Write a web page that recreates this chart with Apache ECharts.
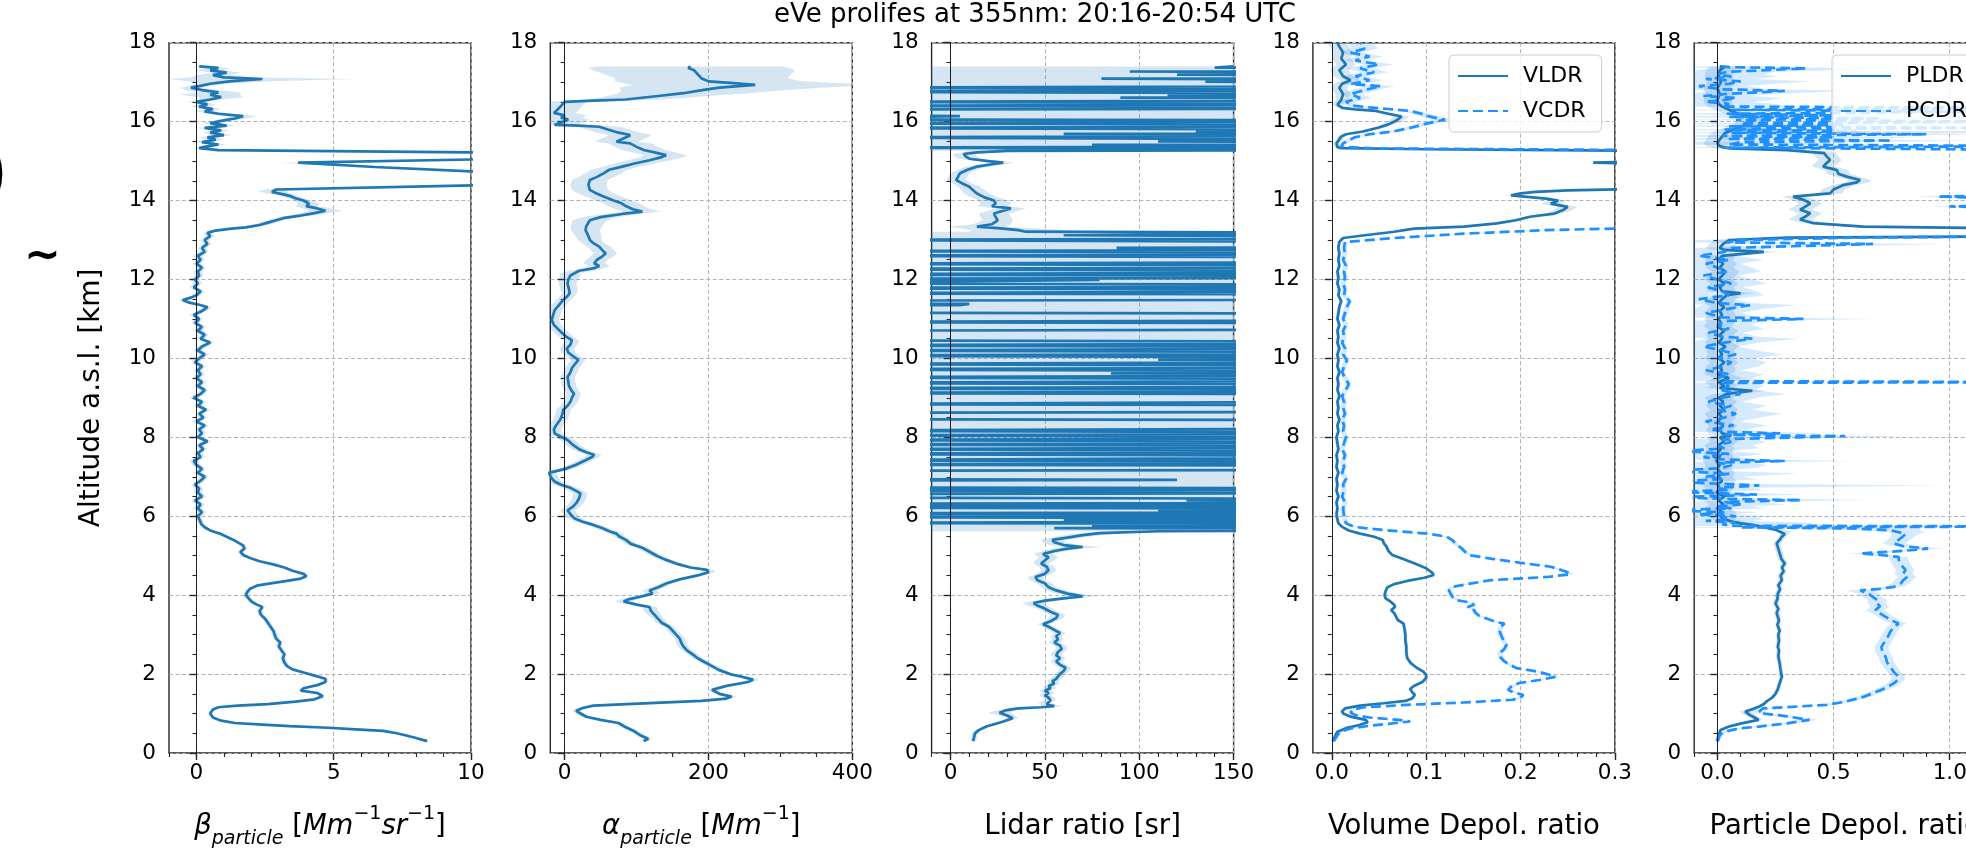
<!DOCTYPE html>
<html>
<head>
<meta charset="utf-8">
<title>eVe profiles 355 nm</title>
<script src="https://cdn.jsdelivr.net/npm/echarts@6/dist/echarts.min.js"></script>
<style>
  html, body { margin: 0; padding: 0; background: #fff; }
  #chart { width: 1966px; height: 857px; }
</style>
</head>
<body>
<div id="chart"></div>
<script>
// Each profile row: [altitude a.s.l. (km), value, uncertainty]

// Particle backscatter coefficient (Mm-1 sr-1)
const betaRows = [
  [0.30,8.4,0.1],[0.40,7.9,0.1],[0.50,7.3,0.1],[0.56,6.8,0.1],[0.60,5.8,0.1],[0.64,4.8,0.1],[0.68,3.4,0.1],[0.72,2.4,0.1],
  [0.76,1.4,0.08],[0.82,0.9,0.08],[0.90,0.6,0.08],[1.00,0.5,0.08],[1.10,0.6,0.08],[1.16,0.8,0.08],[1.20,1.5,0.1],[1.24,2.6,0.1],
  [1.30,3.6,0.1],[1.36,4.3,0.1],[1.44,4.6,0.1],[1.52,4.4,0.1],[1.58,3.8,0.1],[1.64,3.9,0.1],[1.72,4.4,0.1],[1.80,4.7,0.1],
  [1.88,4.7,0.1],[1.96,4.3,0.1],[2.04,3.9,0.1],[2.12,3.5,0.1],[2.20,3.3,0.1],[2.30,3.2,0.1],[2.40,3.15,0.1],[2.50,3.2,0.1],
  [2.60,3.1,0.1],[2.70,3.0,0.1],[2.80,3.05,0.1],[2.90,2.9,0.1],[3.00,2.85,0.1],[3.10,2.8,0.1],[3.20,2.7,0.1],[3.30,2.6,0.1],
  [3.40,2.5,0.1],[3.50,2.35,0.1],[3.60,2.3,0.1],[3.70,2.4,0.1],[3.76,2.2,0.1],[3.84,2.0,0.1],[3.92,1.9,0.1],[4.00,1.8,0.1],
  [4.08,1.85,0.1],[4.16,1.95,0.1],[4.24,2.2,0.1],[4.30,2.7,0.1],[4.36,3.3,0.1],[4.42,3.8,0.1],[4.48,4.0,0.1],[4.54,3.9,0.1],
  [4.62,3.5,0.1],[4.70,3.2,0.1],[4.78,2.8,0.1],[4.86,2.3,0.1],[4.94,1.95,0.1],[5.02,1.7,0.1],[5.10,1.6,0.1],[5.18,1.75,0.1],
  [5.26,1.7,0.1],[5.32,1.55,0.1],[5.40,1.35,0.1],[5.48,1.1,0.1],[5.56,0.85,0.1],[5.64,0.5,0.1],[5.72,0.3,0.1],[5.80,0.18,0.1],
  [5.90,0.12,0.1],[6.00,0.05,0.12],
  [6.1,0.2,0.15],[6.2,0.05,0.15],[6.3,0.15,0.15],[6.4,-0.05,0.15],[6.5,0.2,0.15],[6.6,0.05,0.15],[6.7,0.1,0.15],[6.8,-0.05,0.15],
  [6.9,0.15,0.15],[7.0,0.3,0.15],[7.1,0.05,0.15],[7.2,0.2,0.15],[7.3,0.0,0.15],[7.4,-0.1,0.15],[7.5,0.15,0.15],[7.6,0.05,0.15],
  [7.7,0.25,0.15],[7.8,0.1,0.15],[7.9,0.4,0.15],[8.0,0.05,0.15],[8.1,0.2,0.15],[8.2,0.1,0.15],[8.3,0.3,0.15],[8.4,0.0,0.15],
  [8.5,0.25,0.15],[8.6,0.1,0.15],[8.7,0.35,0.15],[8.8,0.05,0.15],[8.9,0.2,0.15],[9.0,-0.1,0.15],[9.1,0.15,0.15],[9.2,0.3,0.15],
  [9.3,0.05,0.15],[9.4,0.2,0.15],[9.5,0.0,0.15],[9.6,0.15,0.15],[9.7,0.05,0.15],[9.8,0.2,0.15],[9.9,-0.05,0.15],[10.0,0.1,0.15],
  [10.1,0.3,0.15],[10.2,0.05,0.15],[10.3,0.2,0.15],[10.4,0.5,0.15],[10.5,0.15,0.15],[10.6,0.3,0.15],[10.7,0.05,0.15],[10.8,0.2,0.15],
  [10.9,-0.05,0.15],[11.0,0.1,0.15],[11.1,-0.1,0.15],[11.2,0.2,0.15],[11.3,0.4,0.15],[11.36,0.1,0.15],[11.42,-0.3,0.15],[11.48,-0.5,0.15],
  [11.54,-0.2,0.15],[11.6,0.0,0.15],[11.7,0.15,0.15],[11.8,-0.1,0.15],[11.9,0.05,0.15],[12.0,-0.05,0.15],[12.1,0.1,0.15],[12.2,0.05,0.15],
  [12.3,0.2,0.15],[12.4,0.0,0.15],[12.5,0.15,0.15],[12.6,0.05,0.15],[12.7,0.3,0.15],[12.8,0.2,0.15],[12.9,0.4,0.15],[13.0,0.3,0.15],
  [13.1,0.5,0.15],[13.18,0.4,0.15],[13.24,0.7,0.15],
  [13.28,1.2,0.2],[13.32,1.8,0.25],[13.38,2.3,0.3],[13.44,2.6,0.3],[13.5,2.9,0.3],[13.56,3.2,0.3],[13.62,3.8,0.4],[13.68,4.3,0.5],
  [13.74,4.7,0.6],[13.8,4.4,0.5],[13.86,4.0,0.4],[13.92,4.1,0.4],[14.0,3.9,0.3],[14.06,3.6,0.3],[14.12,3.4,0.3],[14.18,3.0,0.4],
  [14.22,2.75,0.5],[14.28,2.9,0.4],[14.39,10.5,0.5],[14.55,20,1],[14.74,10,0.5],[14.85,6.5,0.5],[14.96,3.7,0.7],[15.04,10,0.5],
  [15.13,20,1],[15.22,10,0.5],[15.28,0.8,0.2],[15.33,0.1,0.2],
  [15.36,0.3,0.3],[15.42,0.8,0.3],[15.48,0.2,0.3],[15.54,0.7,0.3],[15.6,0.4,0.3],[15.66,1.0,0.3],[15.72,0.5,0.3],[15.78,0.9,0.3],
  [15.84,0.3,0.3],[15.9,1.1,0.3],[15.96,0.5,0.3],[16.02,0.9,0.35],[16.08,1.4,0.4],[16.14,1.7,0.5],[16.2,0.8,0.4],[16.26,0.3,0.3],
  [16.32,0.6,0.3],[16.38,0.1,0.3],[16.44,0.4,0.3],[16.5,0.0,0.3],[16.56,0.5,0.4],[16.62,0.9,0.8],[16.68,0.5,1.1],[16.74,0.8,0.8],
  [16.8,0.2,0.6],[16.86,-0.2,0.4],[16.9,0.1,0.4],[16.96,0.5,0.5],[17.02,1.2,1.5],[17.08,2.4,3.4],[17.12,1.0,1.2],[17.18,0.6,0.6],
  [17.24,1.1,0.5],[17.3,0.5,0.5],[17.36,0.8,0.4],[17.4,0.1,0.3]
];

// Particle extinction coefficient (Mm-1)
const alphaRows = [
  [0.30,110,6],[0.36,116,6],[0.45,105,6],[0.55,97,6],[0.65,85,6],[0.76,75,6],[0.84,50,6],[0.92,30,6],[1.00,22,6],[1.07,16,6],
  [1.14,25,6],[1.20,40,6],[1.26,110,7],[1.32,190,7],[1.38,225,7],[1.43,232,7],[1.50,215,7],[1.60,205,7],[1.70,225,7],[1.80,255,8],
  [1.86,262,8],[1.94,245,8],[2.00,230,7],[2.10,215,7],[2.20,205,7],[2.30,195,7],[2.40,185,7],[2.50,178,7],[2.60,170,7],[2.70,165,7],
  [2.80,162,7],[2.90,160,7],[3.00,155,7],[3.10,150,7],[3.20,145,7],[3.30,135,8],[3.40,130,8],[3.50,125,9],[3.60,120,10],[3.70,118,10],
  [3.76,100,11],[3.84,82,12],[3.90,90,11],[3.96,105,10],[4.04,122,10],[4.12,118,10],[4.20,130,9],[4.30,142,8],[4.40,160,8],[4.50,185,8],
  [4.58,200,9],[4.64,198,9],[4.70,175,8],[4.80,155,8],[4.90,140,8],[5.00,128,8],[5.10,118,8],[5.20,108,8],[5.30,92,8],[5.40,85,8],
  [5.50,75,8],[5.56,72,9],[5.62,62,9],[5.70,52,9],[5.78,40,9],[5.86,25,9],[5.94,14,9],[6.05,8,10],[6.15,4,10],[6.25,12,10],
  [6.33,16,10],[6.45,20,10],[6.58,22,10],[6.66,14,10],[6.72,8,10],[6.80,-5,10],[6.88,-14,10],[6.96,-18,10],[7.10,-22,10],[7.20,1,10],
  [7.30,15,10],[7.42,29,10],[7.50,38,10],[7.56,41,10],[7.62,30,10],[7.70,20,10],[7.80,12,10],[7.93,4,10],[8.02,-6,10],[8.10,-14,10],
  [8.20,-15,10],[8.30,-12,10],[8.45,-6,10],[8.60,-3,10],[8.70,-2,10],[8.80,4,10],[8.90,8,10],[9.00,10,10],[9.10,13,10],[9.20,9,10],
  [9.30,6,10],[9.40,5,10],[9.53,4,10],[9.65,8,10],[9.75,10,10],[9.85,14,10],[9.96,19,10],[10.05,12,10],[10.15,5,10],[10.25,3,10],
  [10.35,8,10],[10.46,10,10],[10.55,2,10],[10.65,-4,10],[10.72,-8,10],[10.85,-15,10],[10.97,-18,10],[11.10,-16,10],[11.22,-14,10],[11.35,-8,10],
  [11.48,-2,10],[11.58,4,10],[11.65,7,10],[11.75,6,12],[11.90,4,12],[12.00,5,14],[12.10,8,14],[12.15,7,14],[12.22,20,15],[12.28,40,15],
  [12.34,48,15],[12.41,41,15],[12.50,45,15],[12.58,52,16],[12.66,57,16],[12.75,52,16],[12.83,48,16],[12.92,40,16],[13.00,35,16],[13.10,33,18],
  [13.25,29,20],[13.35,30,22],[13.50,35,24],[13.58,50,25],[13.66,80,25],[13.72,108,25],[13.78,95,25],[13.86,85,25],[13.93,79,25],[14.00,68,25],
  [14.10,54,25],[14.20,42,25],[14.27,35,25],[14.40,33,25],[14.52,35,25],[14.60,45,25],[14.69,54,25],[14.78,62,25],[14.86,80,25],[14.94,97,28],
  [15.02,118,30],[15.10,135,30],[15.15,141,30],[15.22,125,30],[15.28,110,30],[15.36,100,30],[15.45,91,30],[15.49,72,30],[15.56,80,30],[15.62,88,30],
  [15.66,91,30],[15.72,75,30],[15.80,60,30],[15.87,48,30],[15.90,20,30],[15.92,-14,30],[15.98,-5,30],[16.05,5,30],[16.10,-5,30],[16.16,0,30],
  [16.22,-15,30],[16.30,-10,30],[16.40,-5,30],[16.50,0,30],[16.53,40,40],[16.56,85,50],[16.65,130,70],[16.72,165,90],[16.79,189,110],[16.86,215,140],
  [16.93,265,170],[16.98,230,150],[17.02,200,130],[17.10,190,120],[17.20,185,130],[17.30,180,140],[17.36,172,140],[17.40,175,130]
];

// Lidar ratio (sr): stable layers below 5.7 km and at 13.2-15.3 km
const lrLowRows = [
  [0.30,12,1.5],[0.40,12.5,1.5],[0.50,13,1.5],[0.58,15,1.5],[0.67,19,2],[0.74,24,2],[0.80,28,2],[0.88,33,3],[0.95,30,4],[1.02,26,6],
  [1.08,29,5],[1.13,36,4],[1.16,48,4],[1.19,55,5],[1.23,51,4],[1.28,50,3],[1.34,53,3],[1.40,52,3],[1.46,50,3],[1.52,52,3],
  [1.58,50,3],[1.64,53,3],[1.70,52,3],[1.76,55,3],[1.82,54,3],[1.88,56,3],[1.94,57,3],[2.00,58,3],[2.08,60,3],[2.16,61,3],
  [2.24,58,3],[2.32,56,3],[2.40,58,3],[2.48,56,3],[2.56,57,3],[2.64,59,3],[2.72,58,3],[2.80,55,3],[2.88,57,3],[2.96,56,3],
  [3.04,58,3],[3.12,55,3],[3.20,52,3],[3.26,49,3],[3.34,53,3],[3.42,56,4],[3.50,57,4],[3.58,53,4],[3.66,50,4],[3.74,46,5],
  [3.80,44,6],[3.86,50,5],[3.92,60,6],[3.97,70,8],[4.04,62,6],[4.12,56,5],[4.20,52,4],[4.30,50,4],[4.38,46,4],[4.46,45,4],
  [4.54,50,4],[4.63,52,4],[4.72,51,4],[4.80,48,4],[4.88,50,5],[4.96,52,5],[5.04,49,5],[5.12,55,6],[5.18,62,8],[5.22,70,10],
  [5.27,60,8],[5.34,55,6],[5.40,54,6],[5.46,62,8],[5.52,70,10],[5.57,79,12],[5.62,110,25]
];
const lrMidRows = [
  [13.21,40,30],[13.25,36,25],[13.30,25,20],[13.34,14,15],[13.40,22,10],[13.50,25,8],[13.58,24,8],[13.67,23,8],[13.74,28,8],[13.80,32,8],
  [13.86,22,8],[13.92,24,8],[14.00,23,8],[14.08,18,7],[14.18,14,7],[14.26,12,6],[14.35,10,6],[14.44,6,5],[14.52,3,5],[14.60,4,5],
  [14.69,5,5],[14.78,9,5],[14.86,14,6],[14.92,22,6],[14.96,28,6],[15.00,20,6],[15.06,10,6],[15.12,8,6],[15.18,7,6],[15.22,14,8],[15.26,30,20]
];
// Lidar ratio inside the cirrus layers, where beta -> 0 and the ratio swings off scale: [altitude, value]
const lrCloudLow = [
  [5.66,400],[5.70,55],[5.73,400],[5.76,75],[5.79,400],[5.83,-100],[5.88,400],[5.91,60],[5.94,400],[5.98,-100],[6.03,400],[6.07,-100],
  [6.12,400],[6.15,110],[6.18,400],[6.22,-100],[6.27,400],[6.31,-100],[6.36,400],[6.40,125],[6.43,400],[6.47,-100],[6.56,-100],[6.60,400],
  [6.65,-100],[6.70,400],[6.73,-100],[6.90,-100],[6.92,120],[6.94,-100],[7.15,-100],[7.19,400],[7.27,400],[7.31,-100],[7.37,400],[7.42,-100],
  [7.46,110],[7.50,400],[7.58,-100],[7.64,400],[7.70,-100],[7.76,400],[7.82,-100],[7.88,400],[7.93,-100],[7.99,400],[8.05,-100],[8.10,400],
  [8.17,-100],[8.24,400],[8.42,400],[8.46,-100],[8.62,-100],[8.66,400],[8.80,400],[8.84,-100],[8.93,400],[9.08,400],[9.12,-100],[9.18,400],
  [9.24,-100],[9.31,400],[9.38,-100],[9.45,400],[9.52,-100],[9.58,400],[9.62,85],[9.66,400],[9.72,-100],[9.79,400],[9.86,-100],[9.92,400],
  [9.97,110],[10.01,400],[10.07,-100],[10.14,400],[10.20,-100],[10.27,400],[10.33,-100],[10.40,400],[10.46,-100],[10.70,-100],[10.74,400],[10.88,400],
  [10.92,-100],[10.98,400],[11.12,400],[11.16,-100],[11.33,-100],[11.35,5],[11.38,10],[11.40,-100],[11.46,-100],[11.50,400],[11.60,400],[11.65,-100],
  [11.72,400],[11.78,-100],[11.85,400],[11.90,-100],[11.99,79],[12.01,-100],[12.06,400],[12.13,-100],[12.20,400],[12.26,-100],[12.33,400],[12.40,-100],
  [12.46,400],[12.55,400],[12.60,-100],[12.66,400],[12.72,-100],[12.76,400],[12.80,88],[12.83,400],[12.93,400],[13.00,-100],[13.06,400],[13.10,400],
  [13.12,60],[13.14,120],[13.16,400],[13.18,400]
];
const lrCloudHigh = [
  [15.30,400],[15.34,-100],[15.38,400],[15.41,75],[15.44,400],[15.49,400],[15.50,110],[15.52,400],[15.57,400],[15.60,-100],[15.66,400],[15.69,60],
  [15.72,400],[15.76,130],[15.78,400],[15.84,-100],[15.90,400],[15.96,-100],[16.02,400],[16.06,-100],[16.14,5],[16.18,-100],[16.30,-100],[16.35,400],
  [16.40,-100],[16.45,400],[16.50,-100],[16.55,400],[16.61,90],[16.64,400],[16.67,115],[16.70,400],[16.76,-100],[16.81,400],[16.86,-100],[16.92,400],
  [17.01,135],[17.04,400],[17.09,80],[17.12,400],[17.19,120],[17.22,400],[17.27,95],[17.30,400],[17.37,140],[17.40,150]
];
// uncertainty of the ratio inside the cirrus layers is unbounded on this scale
const lrCloudSpread = 2000;

// Volume linear / circular depolarization ratio
const vldrRows = [
  [0.30,0.001,0.002],[0.45,0.004,0.002],[0.54,0.006,0.002],[0.63,0.015,0.002],[0.71,0.029,0.002],[0.78,0.038,0.002],[0.84,0.036,0.002],
  [0.92,0.02,0.002],[1.00,0.012,0.002],[1.06,0.011,0.002],[1.13,0.014,0.002],[1.20,0.03,0.002],[1.26,0.055,0.002],[1.32,0.078,0.002],
  [1.38,0.085,0.002],[1.47,0.088,0.002],[1.55,0.085,0.002],[1.62,0.083,0.002],[1.70,0.087,0.002],[1.80,0.096,0.002],[1.90,0.1,0.002],
  [1.98,0.1,0.002],[2.06,0.097,0.002],[2.16,0.09,0.002],[2.27,0.084,0.002],[2.40,0.08,0.002],[2.55,0.079,0.002],[2.70,0.079,0.002],
  [2.85,0.078,0.002],[3.00,0.078,0.002],[3.15,0.077,0.002],[3.28,0.076,0.002],[3.37,0.07,0.002],[3.46,0.068,0.002],[3.55,0.066,0.002],
  [3.62,0.063,0.002],[3.70,0.067,0.002],[3.76,0.066,0.002],[3.84,0.062,0.002],[3.92,0.057,0.002],[4.00,0.056,0.002],[4.10,0.057,0.002],
  [4.20,0.059,0.002],[4.28,0.066,0.002],[4.36,0.08,0.002],[4.44,0.098,0.002],[4.51,0.108,0.002],[4.58,0.106,0.002],[4.68,0.1,0.002],
  [4.80,0.088,0.002],[4.92,0.075,0.002],[5.02,0.064,0.002],[5.12,0.06,0.002],[5.23,0.058,0.002],[5.32,0.055,0.002],[5.40,0.054,0.002],
  [5.48,0.045,0.002],[5.56,0.03,0.002],[5.64,0.018,0.002],[5.73,0.011,0.002],[5.82,0.007,0.002],[5.92,0.006,0.002],[6.05,0.005,0.002],
  [6.20,0.006,0.002],[6.35,0.005,0.002],[6.50,0.007,0.002],[6.65,0.005,0.002],[6.80,0.006,0.002],[6.95,0.005,0.002],[7.10,0.007,0.002],
  [7.25,0.005,0.002],[7.40,0.006,0.002],[7.55,0.005,0.002],[7.70,0.007,0.002],[7.85,0.006,0.002],[8.00,0.005,0.002],[8.15,0.007,0.002],
  [8.30,0.006,0.002],[8.45,0.008,0.002],[8.60,0.006,0.002],[8.75,0.007,0.002],[8.90,0.006,0.002],[9.05,0.008,0.002],[9.20,0.006,0.002],
  [9.35,0.007,0.002],[9.50,0.006,0.002],[9.65,0.008,0.002],[9.80,0.006,0.002],[9.95,0.007,0.002],[10.10,0.006,0.002],[10.25,0.008,0.002],
  [10.40,0.006,0.002],[10.55,0.007,0.002],[10.70,0.006,0.002],[10.85,0.008,0.002],[11.00,0.006,0.002],[11.15,0.007,0.002],[11.30,0.008,0.002],
  [11.45,0.01,0.002],[11.60,0.007,0.002],[11.75,0.008,0.002],[11.90,0.006,0.002],[12.05,0.007,0.002],[12.20,0.006,0.002],[12.35,0.008,0.002],
  [12.50,0.007,0.002],[12.65,0.008,0.002],[12.80,0.007,0.002],[12.95,0.008,0.002],
  [13.05,0.012,0.003],[13.12,0.035,0.004],[13.21,0.066,0.005],[13.29,0.087,0.005],[13.34,0.14,0.006],[13.42,0.175,0.006],[13.50,0.195,0.006],
  [13.59,0.21,0.006],[13.67,0.236,0.008],[13.76,0.245,0.01],[13.84,0.25,0.01],[13.92,0.232,0.01],[14.00,0.24,0.01],[14.05,0.227,0.008],
  [14.13,0.19,0.006],[14.18,0.2,0.006],[14.22,0.216,0.006],[14.26,0.25,0.008],[14.29,0.32,0.01],[14.50,0.5,0.02],[14.90,0.5,0.02],
  [14.94,0.32,0.01],[14.96,0.277,0.01],[14.98,0.32,0.01],[15.10,0.5,0.02],[15.26,0.32,0.01],[15.30,0.1,0.005],[15.33,0.01,0.003],
  [15.35,0.006,0.003],[15.45,0.005,0.003],[15.55,0.008,0.003],[15.62,0.01,0.004],[15.68,0.015,0.004],[15.75,0.033,0.005],[15.85,0.05,0.006],
  [15.93,0.06,0.006],[16.02,0.068,0.008],[16.13,0.074,0.008],[16.20,0.06,0.008],[16.27,0.047,0.006],[16.31,0.025,0.006],[16.35,0.011,0.005],
  [16.43,0.006,0.005],[16.55,0.01,0.006],[16.70,0.012,0.008],[16.85,0.008,0.008],[16.96,0.011,0.008],[17.05,0.02,0.01],[17.15,0.012,0.01],
  [17.30,0.008,0.01],[17.45,0.015,0.01],[17.60,0.01,0.01],[17.75,0.012,0.01],[17.90,0.008,0.01],[18.00,0.006,0.01]
];
const vcdrRows = [
  [0.30,0.002,0.002],[0.45,0.006,0.002],[0.54,0.009,0.002],[0.62,0.02,0.002],[0.67,0.033,0.002],[0.74,0.06,0.003],[0.80,0.083,0.003],
  [0.84,0.07,0.003],[0.90,0.04,0.003],[0.96,0.025,0.002],[1.02,0.02,0.002],[1.10,0.022,0.002],[1.16,0.035,0.002],[1.22,0.08,0.003],
  [1.28,0.14,0.003],[1.35,0.192,0.003],[1.41,0.2,0.003],[1.47,0.203,0.003],[1.54,0.192,0.003],[1.60,0.187,0.003],[1.68,0.19,0.003],
  [1.77,0.198,0.003],[1.85,0.22,0.003],[1.93,0.237,0.003],[2.00,0.228,0.003],[2.06,0.219,0.003],[2.15,0.196,0.003],[2.24,0.188,0.003],
  [2.32,0.183,0.003],[2.42,0.179,0.003],[2.53,0.178,0.003],[2.64,0.183,0.003],[2.74,0.185,0.003],[2.85,0.182,0.003],[2.95,0.18,0.003],
  [3.08,0.178,0.003],[3.20,0.179,0.003],[3.28,0.183,0.003],[3.32,0.174,0.003],[3.40,0.165,0.003],[3.48,0.156,0.003],[3.56,0.152,0.003],
  [3.62,0.151,0.003],[3.70,0.144,0.003],[3.76,0.151,0.003],[3.82,0.145,0.003],[3.87,0.133,0.003],[3.95,0.128,0.003],[4.04,0.126,0.003],
  [4.12,0.124,0.003],[4.21,0.128,0.003],[4.30,0.148,0.003],[4.38,0.169,0.003],[4.46,0.228,0.003],[4.53,0.253,0.003],[4.60,0.248,0.003],
  [4.72,0.232,0.003],[4.82,0.2,0.003],[4.92,0.17,0.003],[5.01,0.147,0.003],[5.10,0.141,0.003],[5.18,0.138,0.003],[5.28,0.132,0.003],
  [5.39,0.128,0.003],[5.48,0.122,0.003],[5.56,0.101,0.003],[5.62,0.07,0.003],[5.65,0.056,0.003],[5.70,0.035,0.003],[5.73,0.024,0.003],
  [5.82,0.015,0.003],[5.99,0.013,0.003],
  [6.20,0.012,0.003],[6.35,0.014,0.003],[6.50,0.011,0.003],[6.65,0.013,0.003],[6.80,0.012,0.003],[6.95,0.015,0.003],[7.10,0.011,0.003],
  [7.25,0.013,0.003],[7.40,0.012,0.003],[7.55,0.014,0.003],[7.70,0.011,0.003],[7.85,0.013,0.003],[8.00,0.015,0.003],[8.15,0.012,0.003],
  [8.30,0.013,0.003],[8.45,0.011,0.003],[8.60,0.014,0.003],[8.75,0.012,0.003],[8.90,0.013,0.003],[9.05,0.011,0.003],[9.20,0.015,0.003],
  [9.35,0.018,0.003],[9.50,0.014,0.003],[9.65,0.011,0.003],[9.80,0.013,0.003],[9.95,0.016,0.003],[10.10,0.012,0.003],[10.25,0.014,0.003],
  [10.40,0.011,0.003],[10.55,0.013,0.003],[10.70,0.012,0.003],[10.85,0.015,0.003],[11.00,0.012,0.003],[11.15,0.014,0.003],[11.30,0.016,0.003],
  [11.45,0.019,0.003],[11.60,0.013,0.003],[11.75,0.014,0.003],[11.90,0.012,0.003],[12.05,0.014,0.003],[12.20,0.013,0.003],[12.35,0.015,0.003],
  [12.50,0.012,0.003],[12.65,0.014,0.003],[12.80,0.013,0.003],[12.95,0.014,0.003],
  [13.05,0.066,0.004],[13.16,0.14,0.005],[13.25,0.227,0.006],[13.30,0.32,0.01],[13.50,0.6,0.02],[15.20,0.6,0.02],[15.28,0.32,0.01],
  [15.32,0.05,0.005],[15.36,0.01,0.004],[15.45,0.012,0.004],[15.60,0.024,0.005],[15.68,0.04,0.006],[15.75,0.065,0.008],[15.85,0.085,0.008],
  [15.93,0.097,0.01],[16.00,0.11,0.01],[16.05,0.12,0.012],[16.12,0.105,0.01],[16.20,0.095,0.01],[16.27,0.083,0.008],[16.32,0.06,0.008],
  [16.36,0.04,0.008],[16.40,0.024,0.008],[16.50,0.015,0.01],[16.60,0.03,0.012],[16.70,0.02,0.012],[16.80,0.035,0.014],[16.90,0.052,0.015],
  [16.95,0.02,0.012],[17.05,0.04,0.014],[17.15,0.025,0.012],[17.25,0.045,0.015],[17.35,0.03,0.014],[17.45,0.05,0.015],[17.55,0.025,0.012],
  [17.65,0.04,0.014],[17.75,0.02,0.012],[17.85,0.035,0.014],[18.00,0.03,0.014]
];

// Particle linear / circular depolarization ratio
const pldrRows = [
  [0.30,0.0,0.01],[0.45,0.005,0.01],[0.58,0.013,0.01],[0.67,0.05,0.012],[0.75,0.104,0.015],[0.84,0.177,0.02],[0.90,0.16,0.02],
  [0.96,0.14,0.025],[1.05,0.12,0.025],[1.11,0.15,0.02],[1.17,0.177,0.015],[1.24,0.2,0.012],[1.30,0.21,0.01],[1.40,0.235,0.01],
  [1.50,0.25,0.01],[1.62,0.26,0.01],[1.77,0.268,0.01],[1.93,0.277,0.01],[2.10,0.272,0.01],[2.27,0.268,0.01],[2.45,0.262,0.01],
  [2.60,0.265,0.01],[2.69,0.26,0.01],[2.85,0.265,0.01],[3.00,0.262,0.01],[3.10,0.268,0.01],[3.25,0.258,0.01],[3.35,0.265,0.01],
  [3.45,0.26,0.012],[3.55,0.255,0.012],[3.65,0.262,0.012],[3.79,0.25,0.012],[3.90,0.258,0.012],[4.04,0.26,0.012],[4.15,0.27,0.012],
  [4.25,0.262,0.012],[4.38,0.277,0.012],[4.50,0.272,0.012],[4.60,0.285,0.012],[4.70,0.278,0.012],[4.80,0.29,0.015],[4.92,0.275,0.015],
  [5.06,0.268,0.015],[5.18,0.262,0.015],[5.31,0.255,0.015],[5.40,0.268,0.015],[5.48,0.277,0.015],[5.55,0.29,0.02],[5.60,0.286,0.03],
  [5.66,0.25,0.04],[5.72,0.2,0.05],[5.78,0.15,0.05],[5.82,0.1,0.05],[5.86,0.067,0.05],[5.92,0.03,0.05],[5.99,0.013,0.05],
  [6.1,0.02,0.06],[6.2,0.0,0.06],[6.3,0.025,0.06],[6.4,0.005,0.06],[6.5,0.03,0.06],[6.6,-0.005,0.06],[6.7,0.01,0.06],[6.8,0.0,0.06],
  [6.9,0.02,0.06],[7.0,0.005,0.06],[7.1,0.015,0.06],[7.2,0.0,0.06],[7.3,0.01,0.06],[7.4,-0.005,0.06],[7.5,0.01,0.06],[7.6,0.0,0.06],
  [7.7,0.015,0.06],[7.8,0.005,0.06],[7.9,0.03,0.06],[8.0,0.01,0.06],[8.05,0.06,0.06],[8.1,0.02,0.06],[8.2,0.01,0.06],[8.3,0.025,0.06],
  [8.4,0.0,0.06],[8.5,0.02,0.06],[8.6,0.005,0.06],[8.7,0.03,0.06],[8.8,0.01,0.06],[8.9,0.025,0.06],[9.0,0.005,0.06],[9.1,0.04,0.06],
  [9.18,0.15,0.06],[9.25,0.01,0.06],[9.3,0.03,0.06],[9.4,0.005,0.06],[9.5,0.05,0.06],[9.6,0.0,0.06],[9.7,0.02,0.06],[9.8,0.01,0.06],
  [9.9,0.03,0.06],[10.0,0.005,0.06],[10.1,0.02,0.06],[10.2,0.01,0.06],[10.3,0.035,0.06],[10.4,0.005,0.06],[10.5,0.02,0.06],[10.6,0.01,0.06],
  [10.7,0.03,0.06],[10.8,0.0,0.06],[10.9,0.015,0.06],[11.0,0.005,0.06],[11.1,0.02,0.06],[11.2,0.01,0.06],[11.3,0.03,0.06],[11.4,0.005,0.06],
  [11.5,0.02,0.06],[11.6,0.04,0.06],[11.65,0.1,0.06],[11.7,0.02,0.06],[11.8,0.01,0.06],[11.9,0.03,0.06],[12.0,0.005,0.06],[12.1,0.02,0.06],
  [12.2,0.035,0.06],[12.3,0.01,0.06],[12.4,0.025,0.06],[12.5,0.005,0.06],[12.6,0.02,0.06],[12.7,0.2,0.06],[12.75,0.03,0.06],[12.8,0.01,0.06],
  [12.9,0.025,0.06],[13.0,0.05,0.06],
  [13.06,0.3,0.08],[13.10,1.5,0.1],[13.28,1.5,0.1],[13.34,0.627,0.08],[13.43,0.41,0.05],[13.52,0.356,0.05],[13.60,0.38,0.05],[13.68,0.4,0.05],
  [13.77,0.356,0.05],[13.85,0.38,0.05],[13.93,0.4,0.05],[14.02,0.37,0.05],[14.10,0.326,0.05],[14.18,0.485,0.05],[14.28,0.5,0.05],[14.39,0.54,0.05],
  [14.46,0.6,0.05],[14.52,0.614,0.05],[14.60,0.56,0.05],[14.68,0.52,0.05],[14.77,0.515,0.05],[14.86,0.455,0.05],[14.95,0.47,0.05],[15.03,0.485,0.05],
  [15.12,0.47,0.05],[15.20,0.46,0.05],[15.24,0.455,0.05],[15.28,0.3,0.06],[15.32,0.05,0.06],[15.38,0.01,0.06],[15.45,0.0,0.06],[15.55,0.01,0.06],
  [15.62,0.02,0.06],[15.70,0.03,0.06],[15.78,0.06,0.06],[15.87,0.1,0.06],[15.95,0.13,0.06],[16.02,0.15,0.06],[16.08,0.16,0.06],[16.15,0.12,0.06],
  [16.22,0.08,0.06],[16.30,0.05,0.06],[16.38,0.02,0.06],[16.45,0.005,0.06],[16.55,0.0,0.06],[16.70,0.01,0.06],[16.85,0.0,0.06],[17.00,0.015,0.06],
  [17.15,0.005,0.06],[17.30,0.01,0.06],[17.38,0.03,0.06],[17.40,0.01,0.06]
];
const pcdrRows = [
  [0.30,0.0,0.01],[0.45,0.01,0.01],[0.54,0.03,0.015],[0.62,0.09,0.02],[0.67,0.177,0.025],[0.75,0.3,0.03],[0.84,0.396,0.04],[0.90,0.33,0.04],
  [0.94,0.286,0.04],[1.00,0.2,0.03],[1.03,0.177,0.03],[1.08,0.18,0.03],[1.13,0.195,0.03],[1.18,0.35,0.03],[1.22,0.47,0.03],[1.30,0.55,0.03],
  [1.43,0.633,0.03],[1.52,0.67,0.03],[1.60,0.706,0.03],[1.70,0.74,0.03],[1.77,0.76,0.03],[1.85,0.775,0.03],[1.93,0.78,0.03],[2.05,0.76,0.03],
  [2.19,0.743,0.03],[2.30,0.73,0.03],[2.44,0.724,0.03],[2.55,0.71,0.03],[2.69,0.706,0.03],[2.82,0.72,0.03],[2.95,0.734,0.03],[3.08,0.745,0.03],
  [3.20,0.76,0.03],[3.28,0.78,0.035],[3.36,0.75,0.035],[3.45,0.724,0.035],[3.54,0.7,0.035],[3.62,0.68,0.04],[3.72,0.7,0.04],[3.80,0.685,0.04],
  [3.87,0.69,0.04],[3.95,0.67,0.04],[4.04,0.65,0.05],[4.12,0.615,0.06],[4.16,0.7,0.05],[4.21,0.76,0.04],[4.30,0.79,0.04],[4.38,0.8,0.04],
  [4.46,0.816,0.04],[4.55,0.8,0.04],[4.64,0.81,0.04],[4.72,0.797,0.04],[4.80,0.79,0.04],[4.90,0.78,0.04],[4.97,0.78,0.04],[5.02,0.7,0.05],
  [5.06,0.615,0.05],[5.10,0.75,0.05],[5.18,0.907,0.06],[5.24,0.8,0.05],[5.31,0.76,0.05],[5.40,0.78,0.05],[5.48,0.797,0.05],[5.55,0.81,0.06],
  [5.60,0.816,0.08],[5.64,0.75,0.12],[5.69,0.58,0.3],
  [5.72,0.1,0.5],[5.74,1.5,0.6],[5.76,0.05,0.5],[5.80,0.02,0.4],[5.84,0.08,0.3],[5.88,-0.05,0.2],[5.92,0.05,0.15],[5.96,0.02,0.15],
  [6.00,0.08,0.15],[6.05,-0.08,0.15],[6.10,0.03,0.15],[6.15,-0.2,0.2],[6.20,0.06,0.15],[6.25,0.0,0.15],[6.30,0.1,0.2],[6.36,0.03,0.15],
  [6.41,0.36,0.3],[6.44,0.05,0.15],[6.48,-0.2,0.2],[6.52,0.04,0.15],[6.55,0.17,0.2],[6.58,0.02,0.15],[6.62,-0.2,0.2],[6.66,0.05,0.15],
  [6.72,0.0,0.15],[6.78,0.18,0.8],[6.82,0.02,0.15],[6.88,-0.2,0.2],[6.94,0.03,0.15],[7.00,-0.05,0.15],[7.08,0.05,0.3],[7.15,-0.2,0.2],
  [7.22,0.02,0.15],[7.30,0.06,0.15],[7.36,0.0,0.15],[7.40,0.29,0.3],[7.44,0.02,0.15],[7.50,-0.06,0.15],[7.58,0.05,0.15],[7.65,-0.15,0.2],
  [7.72,0.03,0.15],[7.80,0.0,0.15],[7.88,0.06,0.15],[7.95,0.02,0.15],[8.03,0.55,0.3],[8.06,0.03,0.15],[8.10,0.27,0.2],[8.14,0.04,0.15],
  [8.20,-0.03,0.15],[8.30,0.07,0.15],[8.40,-0.05,0.15],[8.50,0.03,0.15],[8.60,0.08,0.2],[8.70,0.0,0.15],[8.80,0.06,0.15],[8.90,-0.04,0.15],
  [9.00,0.02,0.15],[9.10,0.1,0.2],[9.20,0.01,0.15],[9.30,0.05,0.15],[9.38,0.02,0.15],[9.40,1.5,0.3],[9.42,0.05,0.15],[9.50,0.0,0.15],
  [9.60,0.05,0.15],[9.70,-0.05,0.15],[9.80,0.03,0.15],[9.90,0.06,0.15],[10.00,0.0,0.15],[10.10,0.08,0.2],[10.20,0.02,0.15],[10.30,-0.06,0.15],
  [10.40,0.03,0.15],[10.50,0.15,0.2],[10.55,0.02,0.15],[10.65,-0.04,0.15],[10.75,0.05,0.15],[10.85,0.0,0.15],[10.95,0.04,0.15],[11.00,0.37,0.3],
  [11.04,0.02,0.15],[11.15,-0.05,0.15],[11.25,0.04,0.15],[11.35,0.14,0.2],[11.40,0.0,0.15],[11.50,-0.08,0.15],[11.60,0.05,0.15],[11.70,0.02,0.15],
  [11.80,-0.04,0.15],[11.90,0.06,0.15],[12.00,0.0,0.15],[12.10,-0.06,0.15],[12.20,0.04,0.15],[12.30,0.0,0.15],[12.40,-0.05,0.15],[12.50,0.05,0.15],
  [12.60,-0.08,0.15],[12.70,0.03,0.15],[12.80,0.06,0.15],[12.90,0.67,0.3],[12.94,0.04,0.15],[13.00,0.1,0.2],[13.06,0.6,0.3],[13.10,1.5,0.3],
  [13.30,1.5,0.2],[13.80,1.3,0.15],[13.85,1.0,0.1],[13.88,1.3,0.15],[14.05,1.3,0.2],[14.10,0.95,0.1],[14.14,1.3,0.2],[15.28,1.5,0.2],
  [15.30,1.5,0.4],[15.34,0.02,0.4],[15.38,1.5,0.4],[15.42,0.05,0.4],[15.48,0.1,0.4],[15.52,0.75,0.4],[15.56,0.04,0.4],[15.60,0.5,0.4],
  [15.64,0.02,0.4],[15.68,0.9,0.4],[15.72,0.06,0.4],[15.76,0.6,0.4],[15.80,0.03,0.4],[15.84,1.2,0.4],[15.88,0.05,0.4],[15.92,0.55,0.4],
  [15.96,0.1,0.4],[16.00,1.3,0.4],[16.04,0.08,0.4],[16.08,0.7,0.4],[16.12,0.05,0.4],[16.16,0.5,0.4],[16.20,0.04,0.4],[16.25,1.1,0.4],
  [16.30,0.06,0.4],[16.35,1.5,0.4],[16.38,0.02,0.3],[16.45,0.05,0.2],[16.50,-0.05,0.2],[16.55,0.03,0.2],[16.60,0.08,0.2],[16.65,-0.06,0.2],
  [16.70,0.04,0.2],[16.78,0.29,0.3],[16.82,0.02,0.2],[16.90,-0.08,0.2],[16.96,0.05,0.2],[17.02,0.1,0.3],[17.08,-0.05,0.2],[17.14,0.06,0.2],
  [17.20,0.0,0.2],[17.26,0.04,0.2],[17.35,0.38,0.4],[17.38,0.05,0.2],[17.40,0.02,0.2]
];

// Axis ranges and tick values
const xRanges = [[-1, 10], [-20, 400], [-10, 150], [-0.02, 0.3], [-0.1, 1.2]];
const majorTicks = [
  [0, 5, 10],
  [0, 200, 400],
  [0, 50, 100, 150],
  [0, 0.1, 0.2, 0.3],
  [0, 0.5, 1.0]
];
const minorTicks = [
  [-1, 0, 1, 2, 3, 4, 5, 6, 7, 8, 9, 10],
  [0, 50, 100, 150, 200, 250, 300, 350, 400],
  [-10, 0, 10, 20, 30, 40, 50, 60, 70, 80, 90, 100, 110, 120, 130, 140, 150],
  [0, 0.02, 0.04, 0.06, 0.08, 0.1, 0.12, 0.14, 0.16, 0.18, 0.2, 0.22, 0.24, 0.26, 0.28, 0.3],
  [-0.1, 0, 0.1, 0.2, 0.3, 0.4, 0.5, 0.6, 0.7, 0.8, 0.9, 1.0, 1.1, 1.2]
];
const tickDecimals = [0, 0, 0, 1, 1];
const xNames = [
  '{it|β}{sub|particle}{rm| [}{it|Mm}{sup|−1}{it|sr}{sup|−1}{rm|]}',
  '{it|α}{sub|particle}{rm| [}{it|Mm}{sup|−1}{rm|]}',
  '{rm|Lidar ratio [sr]}',
  '{rm|Volume Depol. ratio}',
  '{rm|Particle Depol. ratio}'
];
const altRange = [0, 18];
const altName = 'Altitude a.s.l. [km]';
const titleText = 'eVe prolifes at 355nm: 20:16-20:54 UTC';

// ---------------------------------------------------------------------------
const FONT = 'DejaVu Sans';
const TAB_BLUE = '#1f77b4';
const DODGER = '#1e90ff';
const BAND_TAB = 'rgba(31,119,180,0.19)';
const BAND_DODGER = 'rgba(30,144,255,0.19)';
const INK = '#262626';

const GRID_LEFT = 169, GRID_STEP = 381.3, GRID_TOP = 42.7, GRID_W = 302, GRID_H = 710.3, PAGE_W = 1966;

const lrRows = lrLowRows
  .concat(lrCloudLow.map(r => [r[0], r[1], lrCloudSpread]))
  .concat(lrMidRows)
  .concat(lrCloudHigh.map(r => [r[0], r[1], lrCloudSpread]));

const mathRich = {
  it:  { fontFamily: FONT, fontSize: 27.5, fontStyle: 'italic', color: '#000', lineHeight: 44 },
  rm:  { fontFamily: FONT, fontSize: 27.5, color: '#000', lineHeight: 44 },
  sub: { fontFamily: FONT, fontSize: 19, fontStyle: 'italic', color: '#000', lineHeight: 30, verticalAlign: 'bottom' },
  sup: { fontFamily: FONT, fontSize: 19, color: '#000', lineHeight: 22, verticalAlign: 'top' }
};

const grids = [], xAxes = [], yAxes = [];
for (let i = 0; i < 5; i++) {
  const left = GRID_LEFT + i * GRID_STEP;
  grids.push({
    left: left, top: GRID_TOP, right: PAGE_W - left - GRID_W, height: GRID_H,
    containLabel: false, outerBoundsMode: 'none',
    show: true, borderColor: INK, borderWidth: 1.4, backgroundColor: 'rgba(0,0,0,0)'
  });
  const dec = tickDecimals[i];
  xAxes.push({
    gridIndex: i, type: 'value', min: xRanges[i][0], max: xRanges[i][1], position: 'bottom',
    axisLine: { show: false },
    axisTick: { show: true, length: 7, customValues: majorTicks[i], lineStyle: { color: INK, width: 1.4 } },
    axisLabel: {
      customValues: majorTicks[i], margin: 9, fontFamily: FONT, fontSize: 21.5, color: '#000',
      formatter: v => Number(v).toFixed(dec)
    },
    splitLine: { show: true, lineStyle: { color: '#b3b3b3', width: 1, type: [4, 2.5] } },
    name: xNames[i], nameLocation: 'middle', nameGap: 52,
    nameTextStyle: { rich: mathRich, lineHeight: 44 }
  });
  xAxes.push({
    gridIndex: i, type: 'value', min: xRanges[i][0], max: xRanges[i][1], position: 'bottom',
    axisLine: { show: false },
    axisTick: { show: true, length: 4, customValues: minorTicks[i], lineStyle: { color: INK, width: 1.1 } },
    axisLabel: { show: false }, splitLine: { show: false }
  });
  yAxes.push({
    gridIndex: i, type: 'value', min: altRange[0], max: altRange[1], interval: 2,
    axisLine: { show: false },
    axisTick: { show: true, length: 7, lineStyle: { color: INK, width: 1.4 } },
    minorTick: { show: true, splitNumber: 4, length: 4, lineStyle: { color: INK, width: 1.1 } },
    axisLabel: { margin: 13, fontFamily: FONT, fontSize: 21.5, color: '#000' },
    splitLine: { show: true, lineStyle: { color: '#b3b3b3', width: 1, type: [4, 2.5] } },
    name: i === 0 ? altName : '', nameLocation: 'middle', nameGap: 60, nameRotate: 90,
    nameTextStyle: { fontFamily: FONT, fontSize: 28, color: '#000', lineHeight: 34 }
  });
}

function bandSeries(rows, panel, fill) {
  return {
    type: 'custom', xAxisIndex: panel * 2, yAxisIndex: panel, clip: true, silent: true, z: 1,
    encode: { x: 0, y: 1 },
    data: [[rows[0][1], rows[0][0]]],
    renderItem: function (params, api) {
      const pts = [];
      for (let k = 0; k < rows.length; k++) pts.push(api.coord([rows[k][1] - rows[k][2], rows[k][0]]));
      for (let k = rows.length - 1; k >= 0; k--) pts.push(api.coord([rows[k][1] + rows[k][2], rows[k][0]]));
      return { type: 'polygon', shape: { points: pts }, style: { fill: fill } };
    }
  };
}

function lineSeries(name, rows, panel, color, dashed, zeroLine) {
  const s = {
    type: 'line', name: name, xAxisIndex: panel * 2, yAxisIndex: panel,
    data: rows.map(r => [r[1], r[0]]),
    showSymbol: false, symbol: 'none', clip: true, z: 3, silent: true,
    lineStyle: { color: color, width: 2.7, type: dashed ? [10, 5] : 'solid' },
    itemStyle: { color: color },
    emphasis: { disabled: true }
  };
  if (zeroLine) {
    s.markLine = {
      silent: true, symbol: ['none', 'none'], label: { show: false }, animation: false,
      lineStyle: { color: '#000', width: 1, type: 'solid', opacity: 0.85 },
      data: [{ xAxis: 0 }]
    };
  }
  return s;
}

const series = [
  bandSeries(betaRows, 0, BAND_TAB),
  lineSeries('beta', betaRows, 0, TAB_BLUE, false, true),
  bandSeries(alphaRows, 1, BAND_TAB),
  lineSeries('alpha', alphaRows, 1, TAB_BLUE, false, true),
  bandSeries(lrRows, 2, BAND_TAB),
  lineSeries('LR', lrRows, 2, TAB_BLUE, false, true),
  bandSeries(vldrRows, 3, BAND_TAB),
  bandSeries(vcdrRows, 3, BAND_DODGER),
  lineSeries('VLDR', vldrRows, 3, TAB_BLUE, false, true),
  lineSeries('VCDR', vcdrRows, 3, DODGER, true, false),
  bandSeries(pldrRows, 4, BAND_TAB),
  bandSeries(pcdrRows, 4, BAND_DODGER),
  lineSeries('PLDR', pldrRows, 4, TAB_BLUE, false, true),
  lineSeries('PCDR', pcdrRows, 4, DODGER, true, false)
];

function legendAt(left, names) {
  return {
    data: names, left: left, top: 55, orient: 'vertical',
    itemWidth: 50, itemHeight: 14, itemGap: 9,
    backgroundColor: 'rgba(255,255,255,0.8)', borderColor: '#cccccc', borderWidth: 1, borderRadius: 5,
    padding: [8, 16, 8, 8], selectedMode: false,
    itemStyle: { opacity: 0, borderWidth: 0 },
    textStyle: { fontFamily: FONT, fontSize: 22, color: '#000', padding: [0, 0, 0, 10], lineHeight: 26 }
  };
}

const option = {
  animation: false,
  backgroundColor: '#fff',
  textStyle: { fontFamily: FONT },
  title: {
    text: titleText, left: 774, top: 0, padding: 0,
    textStyle: { fontFamily: FONT, fontSize: 26, fontWeight: 'normal', color: '#000', lineHeight: 30 }
  },
  legend: [legendAt(1449, ['VLDR', 'VCDR']), legendAt(1832, ['PLDR', 'PCDR'])],
  grid: grids, xAxis: xAxes, yAxis: yAxes, series: series,
  // pieces of neighbouring lettering at the left edge of the page
  graphic: [
    { type: 'text', left: -22, top: 138, silent: true,
      style: { text: ')', fontFamily: FONT, fontSize: 80, fill: '#000' } },
    { type: 'text', left: 24, top: 236, silent: true,
      style: { text: '~', fontFamily: FONT, fontSize: 44, fontWeight: 'bold', fill: '#000' } }
  ]
};

const chart = echarts.init(document.getElementById('chart'), null, { renderer: 'canvas' });
chart.setOption(option);
</script>
</body>
</html>
